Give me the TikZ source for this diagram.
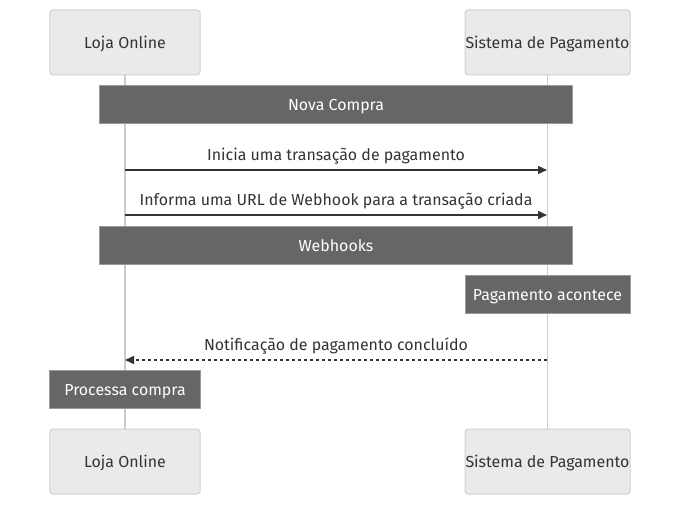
\documentclass[tikz,border=0pt]{standalone}
\usepackage{fontspec}
\setmainfont{Fira Sans}
\usetikzlibrary{arrows.meta}
\definecolor{actorfill}{HTML}{EAEAEA}
\definecolor{actorline}{HTML}{D0D0D0}
\definecolor{lifeline}{HTML}{CCCCCC}
\definecolor{notefill}{HTML}{666666}
\definecolor{noteline}{HTML}{999999}
\definecolor{msgline}{HTML}{333333}

\begin{document}
\begin{tikzpicture}[x=1bp,y=-1bp,>={Triangle[length=9bp,width=8bp]},line join=bevel,
  every node/.style={font=\fontsize{16}{18}\selectfont},
  actor/.style={draw=actorline,fill=actorfill,rounded corners=3bp,line width=1bp,minimum height=65bp,inner sep=0pt,text height=12bp,text depth=0bp,text=msgline},
  note/.style={draw=noteline,fill=notefill,line width=1bp,minimum height=38bp,inner sep=0pt,text height=12bp,text depth=0bp,text=white},
  msg/.style={msgline,line width=1.5bp,->},
  msglabel/.style={text=msgline,inner sep=0pt}]
\useasboundingbox (0,0) rectangle (681,505);
%%
\node (loja_top) at (125,42.5) [actor,minimum width=150bp] {Loja Online};
  \node (sist_top) at (547.5,42.5) [actor,minimum width=165bp] {Sistema de Pagamento};
  \node (loja_bot) at (125,461.5) [actor,minimum width=150bp] {Loja Online};
  \node (sist_bot) at (547.5,461.5) [actor,minimum width=165bp] {Sistema de Pagamento};
  \draw [lifeline,line width=1.5bp] (loja_top) -- (loja_bot);
  \draw [lifeline,line width=1.5bp] (sist_top) -- (sist_bot);
%
\node (nota_compra) at (336,104.5) [note,minimum width=472bp] {Nova Compra};
  \coordinate (m1_a) at (125,170);
  \coordinate (m1_b) at (547,170);
  \draw [msg] (m1_a) -- node[msglabel,above=5bp] (m1_txt) {Inicia uma transação de pagamento} (m1_b);
  \coordinate (m2_a) at (125,215);
  \coordinate (m2_b) at (547,215);
  \draw [msg] (m2_a) -- node[msglabel,above=5bp] (m2_txt) {Informa uma URL de Webhook para a transação criada} (m2_b);
  \node (nota_webhooks) at (336,245.5) [note,minimum width=472bp] {Webhooks};
  \node (nota_pagto) at (547.5,294.5) [note,minimum width=165bp] {Pagamento acontece};
  \coordinate (m3_a) at (547,360);
  \coordinate (m3_b) at (125,360);
  \draw [msg,dash pattern=on 3bp off 3bp] (m3_a) -- node[msglabel,above=5bp] (m3_txt) {Notificação de pagamento concluído} (m3_b);
  \node (nota_processa) at (125,389.5) [note,minimum width=150bp] {Processa compra};
%
\end{tikzpicture}
\end{document}
